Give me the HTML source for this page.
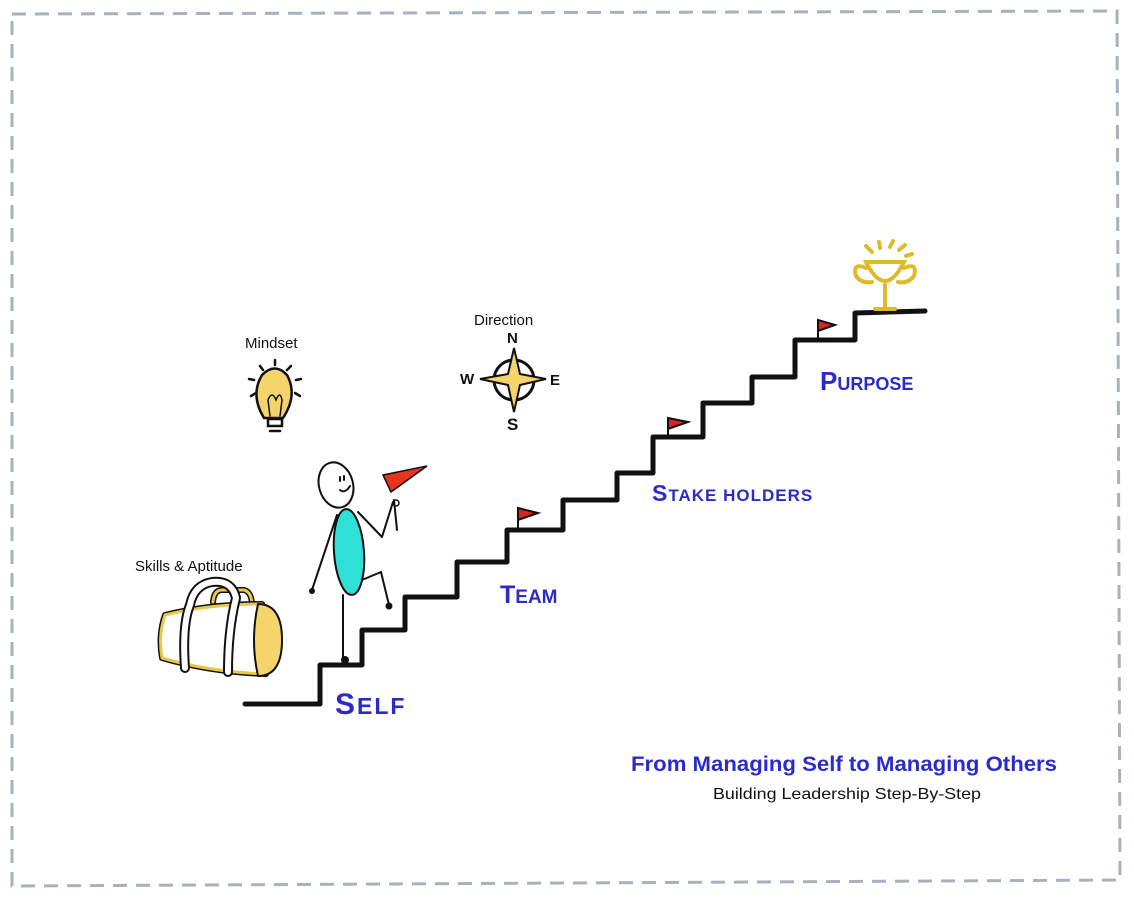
<!DOCTYPE html>
<html><head><meta charset="utf-8"><style>
html,body{margin:0;padding:0;background:#fff;}
svg{display:block;}
text{font-family:"Liberation Sans",sans-serif;}
</style></head><body>
<svg width="1134" height="898" viewBox="0 0 1134 898" xmlns="http://www.w3.org/2000/svg">
<rect x="0" y="0" width="1134" height="898" fill="#fff"/>
<path d="M12,14 L1117,11 L1120,880 L12,886 Z" fill="none" stroke="#a9b1ba" stroke-width="3" stroke-dasharray="14,9"/>
<polyline points="245,704 320,704 320,665 362,665 362,630 405,630 405,597 457,597 457,562 507,562 507,530 563,530 563,500 617,500 617,473 653,473 653,437 703,437 703,403 752,403 752,377 795,377 795,340 855,340 855,313 925,311" fill="none" stroke="#111" stroke-width="5" stroke-linejoin="round" stroke-linecap="round"/>
<g stroke="#111" stroke-width="2">
<line x1="518" y1="530" x2="518" y2="508"/><polygon points="518,508 538,513 518,520" fill="#d22"/>
<line x1="668" y1="437" x2="668" y2="418"/><polygon points="668,418 688,422 668,429" fill="#d22"/>
<line x1="818" y1="340" x2="818" y2="320"/><polygon points="818,320 835,325 818,331" fill="#d22"/>
</g>
<g stroke="#e0b928" stroke-width="4" fill="none" stroke-linecap="round">
<path d="M866,262 Q885,300 904,262 Z" fill="#fff"/>
<path d="M866,268 Q852,262 856,276 Q862,284 872,282"/>
<path d="M904,268 Q918,262 914,276 Q908,284 898,282"/>
<line x1="885" y1="285" x2="885" y2="308"/>
<line x1="875" y1="309" x2="895" y2="309"/>
<line x1="872" y1="252" x2="866" y2="246"/><line x1="880" y1="248" x2="879" y2="242"/><line x1="890" y1="247" x2="893" y2="241"/><line x1="899" y1="250" x2="905" y2="245"/><line x1="906" y1="256" x2="912" y2="254"/>
</g>
<text x="245" y="348" font-size="15" fill="#111">Mindset</text>
<text x="474" y="325" font-size="15" fill="#111">Direction</text>
<text x="135" y="571" font-size="15" fill="#111">Skills &amp; Aptitude</text>
<g stroke="#111" stroke-width="2.5" stroke-linecap="round">
<path d="M264,418 Q250,395 262,375 Q275,362 287,375 Q298,395 283,418 Z" fill="#f5d56b"/>
<rect x="268" y="419" width="14" height="7" fill="#fff"/>
<line x1="270" y1="431" x2="280" y2="431"/>
<path d="M270,416 L268,400 Q272,390 276,400 Q280,390 282,400 L280,416" fill="none" stroke-width="1.5"/>
<line x1="275" y1="365" x2="275" y2="360"/><line x1="263" y1="370" x2="260" y2="366"/><line x1="287" y1="370" x2="291" y2="366"/><line x1="254" y1="380" x2="249" y2="379"/><line x1="296" y1="380" x2="301" y2="379"/><line x1="256" y1="393" x2="251" y2="396"/><line x1="295" y1="393" x2="300" y2="396"/>
</g>
<g stroke="#111" stroke-width="3">
<circle cx="514" cy="380" r="20" fill="none"/>
<polygon points="514,348 520,374 546,379 520,385 514,412 508,385 480,379 508,374" fill="#f5d56b" stroke-width="2"/>
</g>
<text x="507" y="343" font-size="15" font-weight="bold" fill="#111">N</text>
<text x="460" y="384" font-size="15" font-weight="bold" fill="#111">W</text>
<text x="550" y="385" font-size="15" font-weight="bold" fill="#111">E</text>
<text x="507" y="430" font-size="17" font-weight="bold" fill="#111">S</text>
<!-- bag -->
<g stroke-linejoin="round" stroke-linecap="round">
<path d="M213,602 Q214,590 222,590 L244,590 Q252,592 252,606" fill="none" stroke="#111" stroke-width="6"/>
<path d="M213,602 Q214,590 222,590 L244,590 Q252,592 252,606" fill="none" stroke="#e8c84a" stroke-width="3"/>
<path d="M165,615 Q210,604 262,604 L266,674 Q210,672 162,658 Q158,635 165,615 Z" fill="#fff" stroke="#111" stroke-width="6"/>
<path d="M165,615 Q210,604 262,604 L266,674 Q210,672 162,658 Q158,635 165,615 Z" fill="#fff" stroke="#e8c84a" stroke-width="3"/>
<path d="M258,604 Q282,604 282,640 Q282,676 258,676 Q250,640 258,604 Z" fill="#f5d56b" stroke="#111" stroke-width="2"/>
<path d="M185,668 Q182,625 190,605 Q194,585 212,582 Q232,580 236,598 Q228,630 228,672" fill="none" stroke="#111" stroke-width="10"/>
<path d="M185,668 Q182,625 190,605 Q194,585 212,582 Q232,580 236,598 Q228,630 228,672" fill="none" stroke="#fff" stroke-width="6"/>
</g>
<!-- stick figure -->
<g stroke="#111" stroke-width="2" fill="none" stroke-linecap="round">
<ellipse cx="336" cy="485" rx="17" ry="23" fill="#fff" transform="rotate(-15 336 485)"/>
<line x1="340" y1="477" x2="340" y2="481"/><line x1="344" y1="476" x2="344" y2="480"/>
<path d="M340,490 Q345,494 350,486"/>
<line x1="337" y1="515" x2="312" y2="590"/>
<line x1="358" y1="512" x2="382" y2="537"/><line x1="382" y1="537" x2="393" y2="502"/>
<line x1="394" y1="500" x2="397" y2="530"/>
<line x1="343" y1="595" x2="343" y2="662"/>
<line x1="362" y1="580" x2="381" y2="572"/><line x1="381" y1="572" x2="389" y2="605"/>
</g>
<ellipse cx="349" cy="552" rx="15" ry="43" fill="#2ee0d6" stroke="#111" stroke-width="2" transform="rotate(-4 349 552)"/>
<circle cx="312" cy="591" r="3" fill="#111"/><circle cx="389" cy="606" r="3.5" fill="#111"/><circle cx="345" cy="660" r="4" fill="#111"/>
<circle cx="396" cy="503" r="3" fill="none" stroke="#111" stroke-width="1.5"/>
<polygon points="383,475 427,466 391,492" fill="#e8331e" stroke="#111" stroke-width="1.5"/>
<text x="335" y="714" font-size="30" font-weight="bold" fill="#2b2bcc" letter-spacing="2">S<tspan font-size="23">ELF</tspan></text>
<text x="500" y="603" font-size="25" fill="#2b2bcc" font-weight="bold">T<tspan font-size="19">EAM</tspan></text>
<text x="652" y="501" font-size="23" fill="#2b2bcc" font-weight="bold" letter-spacing="1">S<tspan font-size="17">TAKE HOLDERS</tspan></text>
<text x="820" y="390" font-size="26" fill="#2b2bcc" font-weight="bold">P<tspan font-size="18">URPOSE</tspan></text>
<text x="844" y="771" font-size="21" font-weight="bold" fill="#2b2bcc" text-anchor="middle" textLength="426" lengthAdjust="spacingAndGlyphs">From Managing Self to Managing Others</text>
<text x="847" y="799" font-size="16" fill="#111" text-anchor="middle" textLength="268" lengthAdjust="spacingAndGlyphs">Building Leadership Step-By-Step</text>
</svg>
</body></html>
